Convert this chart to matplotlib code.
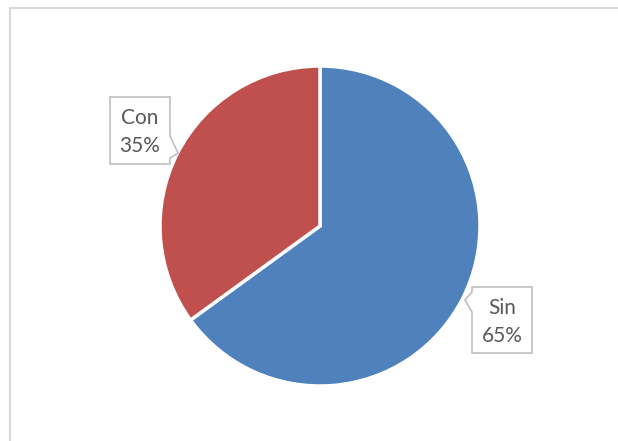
import matplotlib
matplotlib.use("Agg")
import matplotlib.pyplot as plt
from matplotlib.patches import Polygon, Rectangle

labels = ["Sin", "Con"]
values = [65, 35]
colors = ["#4F81BD", "#C0504D"]

W, H = 618, 441
fig = plt.figure(figsize=(W / 100, H / 100), dpi=100)
ax = fig.add_axes([0, 0, 1, 1])
ax.set_xlim(0, W)
ax.set_ylim(0, H)
ax.set_aspect("equal")
ax.axis("off")

# chart frame
ax.add_patch(Rectangle((9.5, -10), W + 20, H - 7.5 + 10, fill=False,
                       edgecolor="#D9D9D9", linewidth=1.5))

cx, cy, r = 320, H - 226, 160
ax.pie(values, colors=colors, startangle=90, counterclock=False,
       center=(cx, cy), radius=r, frame=True,
       wedgeprops=dict(edgecolor="white", linewidth=2.5))
ax.set_xlim(0, W)
ax.set_ylim(0, H)
ax.axis("off")

def Y(y):
    return H - y

# Con callout (pointer on right side)
con_pts = [(110, 97), (170, 97), (170, 136), (178, 153), (170, 158),
           (170, 164), (110, 164)]
ax.add_patch(Polygon([(x, Y(y)) for x, y in con_pts], closed=True,
                     facecolor="white", edgecolor="#BFBFBF", linewidth=1.2,
                     zorder=5))
ax.text(140, Y(132), f"{labels[1]}\n{values[1]}%", ha="center", va="center",
        fontsize=15, color="#595959", family="Lato", linespacing=1.45,
        zorder=6)

# Sin callout (pointer on left side)
sin_pts = [(472, 287), (532, 287), (532, 353), (472, 353), (472, 312),
           (465, 300), (472, 292)]
ax.add_patch(Polygon([(x, Y(y)) for x, y in sin_pts], closed=True,
                     facecolor="white", edgecolor="#BFBFBF", linewidth=1.2,
                     zorder=5))
ax.text(502, Y(322), f"{labels[0]}\n{values[0]}%", ha="center", va="center",
        fontsize=15, color="#595959", family="Lato", linespacing=1.45,
        zorder=6)

fig.savefig("out.png", dpi=100)
